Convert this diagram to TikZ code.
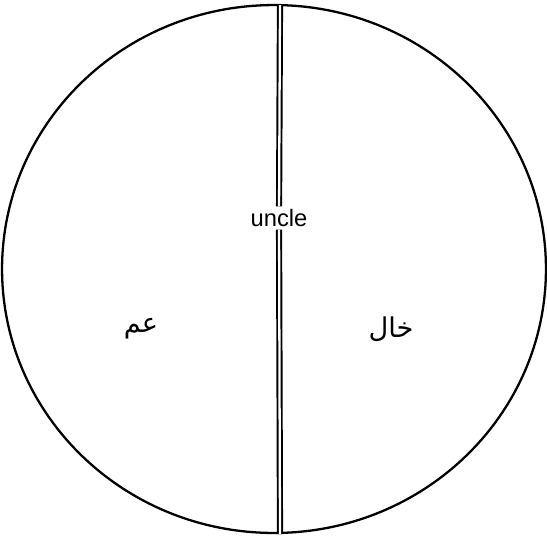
\documentclass[tikz,border=0pt]{standalone}
\usepackage{fontspec}
\setmainfont{Liberation Sans}
\newfontfamily\arabicfont[Script=Arabic]{DejaVu Sans}
\TeXXeTstate=1
\usetikzlibrary{shapes.geometric}

\begin{document}
\begin{tikzpicture}[
    x=0.02cm, y=-0.02cm,
    rim/.style={draw, ellipse, line width=1.3pt, minimum width=10.88cm, minimum height=10.56cm, inner sep=0pt},
    divider/.style={draw, line width=1.1pt, double, double distance=1.3pt},
    word/.style={font=\fontsize{13.5}{15}\selectfont, fill=white, inner sep=1.5pt},
    arabic/.style={font=\arabicfont\fontsize{15.5}{18}\selectfont}
]
    \useasboundingbox (0,0) rectangle (547,538);
    % Circle
    \node[rim] (rim) at (274,269) {};
    % Division
    \coordinate (top) at (280,5);
    \coordinate (bottom) at (280,534);
    \node[word] (uncle) at (279,218) {uncle};
    \draw[divider] (top) -- (uncle);
    \draw[divider] (uncle) -- (bottom);
    % Halves
    \node[arabic] (paternal) at (141,329) {\beginR عم\endR};
    \node[arabic] (maternal) at (391,329) {\beginR خال\endR};
\end{tikzpicture}
\end{document}
